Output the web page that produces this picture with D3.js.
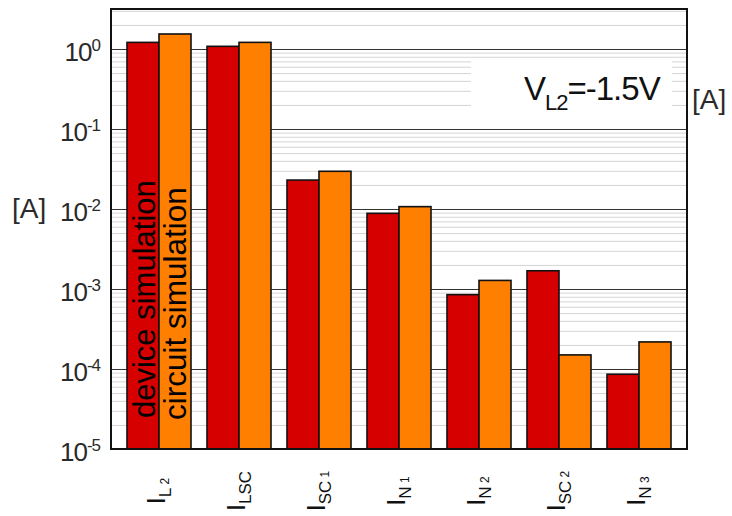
<!DOCTYPE html>
<html>
<head>
<meta charset="utf-8">
<script src="https://cdn.jsdelivr.net/npm/d3@7"></script>
<style>
  body { margin: 0; background: #fff; }
  svg { display: block; font-family: "Liberation Sans", Arial, sans-serif; }
</style>
</head>
<body>
<svg id="chart" width="732" height="516"></svg>
<script>
// categories: main letter I with a subscript and an index
const categories = ["IL2", "ILSC", "ISC1", "IN1", "IN2", "ISC2", "IN3"];
const labelSubs = ["L", "LSC", "SC", "N", "N", "SC", "N"];
const labelIdx = ["2", "", "1", "1", "2", "2", "3"];

// series values [A]
const deviceSim = [1.21, 1.08, 0.0230, 0.00883, 8.5e-4, 1.69e-3, 8.6e-5];
const circuitSim = [1.54, 1.21, 0.0296, 0.0107, 1.28e-3, 1.5e-4, 2.18e-4];

const decades = [-5, -4, -3, -2, -1, 0];

const svg = d3.select("#chart");
const plotLeft = 111, plotRight = 687, plotTop = 9, plotBottom = 449;
const plotWidth = plotRight - plotLeft;

const x = d3.scaleBand()
    .domain(categories)
    .range([plotLeft, plotRight])
    .paddingInner(0.2)
    .paddingOuter(0.2);

const y = d3.scaleLog()
    .domain([1e-5, Math.pow(10, 0.5)])
    .range([plotBottom, plotTop]);

// minor grid positions (2..9 per decade)
const minorTicks = [];
decades.forEach(d => {
    for (let k = 2; k <= 9; k++) {
        const v = k * Math.pow(10, d);
        if (v < y.domain()[1]) minorTicks.push(v);
    }
});
const majorTicks = decades.map(d => Math.pow(10, d));

// minor gridlines
svg.append("g")
    .attr("transform", `translate(${plotLeft},0)`)
    .call(d3.axisLeft(y).tickValues(minorTicks).tickSize(-plotWidth).tickFormat(""))
    .call(g => g.select(".domain").remove())
    .call(g => g.selectAll("line").attr("stroke", "#d4d4d4").attr("stroke-width", 1));

// major gridlines
svg.append("g")
    .attr("transform", `translate(${plotLeft},0)`)
    .call(d3.axisLeft(y).tickValues(majorTicks).tickSize(-plotWidth).tickFormat(""))
    .call(g => g.select(".domain").remove())
    .call(g => g.selectAll("line").attr("stroke", "#333").attr("stroke-width", 1.2));

// annotation box
svg.append("rect")
    .attr("x", 471).attr("y", 60)
    .attr("width", 201).attr("height", 68)
    .attr("fill", "#fff");

const ann = svg.append("text")
    .attr("x", 524).attr("y", 100)
    .attr("font-size", 33)
    .attr("letter-spacing", -1)
    .attr("fill", "#111");
ann.append("tspan").text("V");
ann.append("tspan").attr("font-size", 22).attr("dy", 10).text("L2");
ann.append("tspan").attr("dy", -10).text("=-1.5V");

// bars
const groups = svg.append("g").selectAll("g")
    .data(categories)
    .join("g");

const bw = x.bandwidth() / 2;
groups.append("rect")
    .attr("x", d => x(d))
    .attr("y", (d, i) => y(deviceSim[i]))
    .attr("width", bw)
    .attr("height", (d, i) => plotBottom - y(deviceSim[i]))
    .attr("fill", "#d60000")
    .attr("stroke", "#111")
    .attr("stroke-width", 1.6);

groups.append("rect")
    .attr("x", d => x(d) + bw)
    .attr("y", (d, i) => y(circuitSim[i]))
    .attr("width", bw)
    .attr("height", (d, i) => plotBottom - y(circuitSim[i]))
    .attr("fill", "#ff8000")
    .attr("stroke", "#111")
    .attr("stroke-width", 1.6);

// legend text inside the first group
const x0 = x(categories[0]);
svg.append("text")
    .attr("transform", `translate(${x0 + 28},418) rotate(-90)`)
    .attr("font-size", 31)
    .attr("fill", "#000")
    .text("device simulation");
svg.append("text")
    .attr("transform", `translate(${x0 + bw + 27},420) rotate(-90)`)
    .attr("font-size", 31.5)
    .attr("fill", "#000")
    .text("circuit simulation");

// frame
svg.append("rect")
    .attr("x", plotLeft).attr("y", plotTop)
    .attr("width", plotWidth).attr("height", plotBottom - plotTop)
    .attr("fill", "none")
    .attr("stroke", "#111")
    .attr("stroke-width", 2);

// y axis labels
const yAxis = svg.append("g")
    .attr("transform", `translate(${plotLeft},0)`)
    .call(d3.axisLeft(y).tickValues(majorTicks).tickSize(0).tickFormat(""));
yAxis.select(".domain").remove();
yAxis.selectAll(".tick").each(function (d) {
    const t = d3.select(this).append("text")
        .attr("x", -11)
        .attr("y", 11)
        .attr("text-anchor", "end")
        .attr("font-size", 26)
        .attr("letter-spacing", -1)
        .attr("fill", "#2a2a2a");
    t.append("tspan").text("10");
    t.append("tspan")
        .attr("font-size", 17)
        .attr("dy", -10)
        .text(String(Math.round(Math.log10(d))));
});

// unit labels
svg.append("text")
    .attr("x", 12).attr("y", 218)
    .attr("font-size", 28)
    .attr("fill", "#2a2a2a")
    .text("[A]");
svg.append("text")
    .attr("x", 692).attr("y", 109)
    .attr("font-size", 28)
    .attr("fill", "#2a2a2a")
    .text("[A]");

// x axis labels
const xAxis = svg.append("g")
    .attr("transform", `translate(0,${plotBottom})`)
    .call(d3.axisBottom(x).tickSize(0).tickFormat(""));
xAxis.select(".domain").remove();
xAxis.selectAll(".tick").each(function (d, i) {
    const t = d3.select(this).append("text")
        .attr("transform", `translate(6,42) rotate(-90)`)
        .attr("text-anchor", "middle")
        .attr("font-size", 25)
        .attr("fill", "#111");
    t.append("tspan").text("I");
    t.append("tspan").attr("font-size", 17).attr("dy", 6).text(labelSubs[i]);
    if (labelIdx[i]) {
        t.append("tspan").attr("font-size", 12).attr("dy", -2).text("\u00a0" + labelIdx[i]);
    }
});
</script>
</body>
</html>
